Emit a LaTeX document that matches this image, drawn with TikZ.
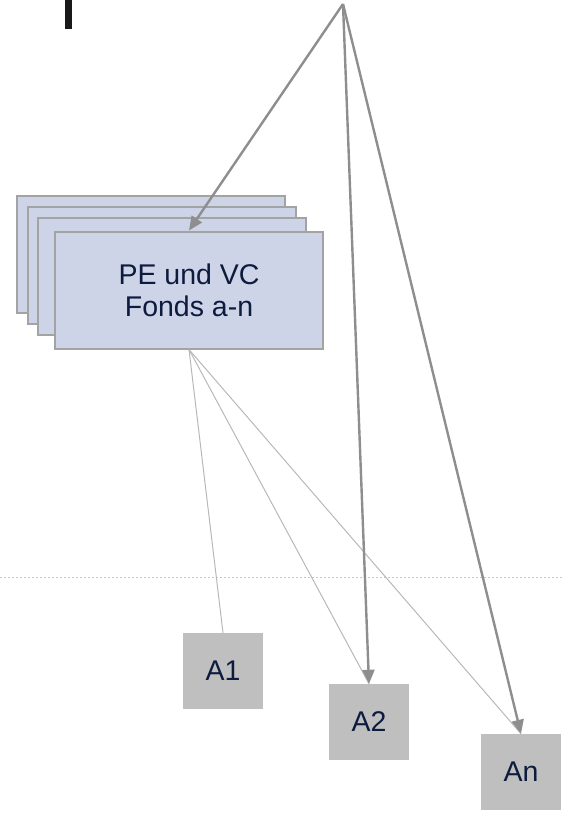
\documentclass[tikz,border=0pt]{standalone}
\usepackage{fontspec}
\setmainfont{Liberation Sans}
\usetikzlibrary{arrows.meta}
\definecolor{fondsfill}{HTML}{CED4E7}
\definecolor{boxline}{HTML}{A3A3A3}
\definecolor{anteilfill}{HTML}{BFBFBF}
\definecolor{pfeilgrau}{HTML}{8E8E8E}
\definecolor{duenngrau}{HTML}{B8B8B8}
\definecolor{schrift}{HTML}{0D1B3E}
\tikzset{
	fondsbox/.style={draw=boxline, line width=2pt, fill=fondsfill, minimum width=268pt, minimum height=117pt, inner sep=0pt, text=schrift, align=center, font=\fontsize{28.5}{32}\selectfont},
	anteilbox/.style={fill=anteilfill, minimum width=80pt, minimum height=76pt, inner sep=0pt, text=schrift, font=\fontsize{28.5}{32}\selectfont},
	pfeil/.style={draw=pfeilgrau, line width=2.4pt, -{Triangle[length=14pt,width=12pt]}},
	duenn/.style={draw=duenngrau, line width=1pt}
}
\begin{document}
\begin{tikzpicture}[x=1pt, y=-1pt]
			%%%%% START %%%%%
			\useasboundingbox (0, 0) rectangle (563, 815);
			
			\fill[black!90] (65, 0) rectangle (72, 29);
			
			\coordinate (links) at (0, 577);
			\coordinate (rechts) at (563, 577);
			\draw[duenngrau!80, line width=0.8pt, dash pattern=on 2pt off 2pt] (links) -- (rechts);
			
			\node[fondsbox] (fonds1) at (151, 254) {};
			\node[fondsbox] (fonds2) at (162, 265) {};
			\node[fondsbox] (fonds3) at (172, 276) {};
			\node[fondsbox] (fonds) at (189, 290) {PE und VC\\Fonds a-n};
			
			\node[anteilbox] (a1) at (223, 671) {A1};
			\node[anteilbox] (a2) at (369, 722) {A2};
			\node[anteilbox] (an) at (521, 772) {An};
			
			\coordinate (spitze) at (343, 4);
			
			\draw[duenn] (fonds.south) -- (a1.north);
			\draw[duenn] (fonds.south) -- (a2.north);
			\draw[duenn] (fonds.south) -- (an.north);
			
			\draw[pfeil] (spitze) -- (fonds.north);
			\draw[pfeil] (spitze) -- (a2.north);
			\draw[pfeil] (spitze) -- (an.north);
			
			%%%%% END %%%%%
\end{tikzpicture}
\end{document}
